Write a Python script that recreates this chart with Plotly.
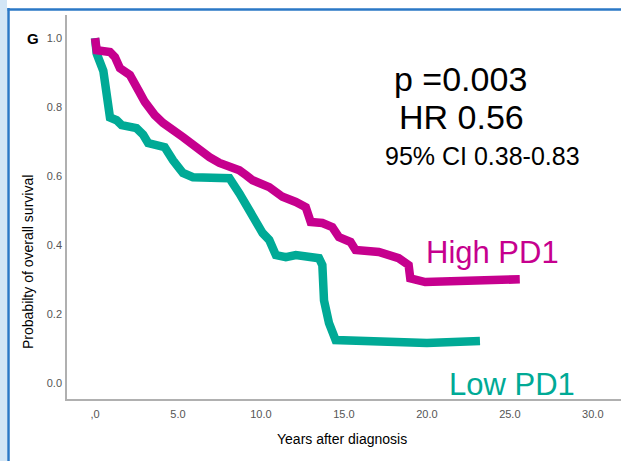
import plotly.graph_objects as go

# Low PD1 (teal) Kaplan-Meier curve
low_t = [0, 0.1, 0.5, 0.7, 0.9, 1.3, 1.6, 2.5, 2.9, 3.2, 4.2, 4.7, 5.3, 5.9, 8.1, 8.7, 9.5, 10.1,
         10.5, 10.9, 11.5, 12.1, 13.5, 13.7, 13.8, 14.1, 14.5, 17.1, 20.0, 23.2]
low_s = [1.0, 0.955, 0.905, 0.84, 0.77, 0.762, 0.748, 0.739, 0.72, 0.696, 0.684, 0.646, 0.609, 0.597,
         0.594, 0.55, 0.48, 0.435, 0.415, 0.371, 0.365, 0.371, 0.362, 0.342, 0.24, 0.174, 0.125,
         0.119, 0.116, 0.122]

# High PD1 (magenta)
high_t = [0, 0.1, 0.9, 1.2, 1.5, 2.1, 2.6, 3.0, 3.6, 4.1, 5.3, 6.1, 6.9, 7.5, 8.3, 8.7, 9.1, 9.5,
          10.5, 11.3, 12.1, 12.7, 13.0, 13.7, 14.3, 14.7, 15.4, 15.7, 17.1, 18.3, 18.9, 19.0, 19.9,
          23.2, 25.6]
high_s = [1.0, 0.965, 0.96, 0.945, 0.913, 0.893, 0.85, 0.815, 0.777, 0.754, 0.713, 0.681, 0.655,
          0.638, 0.626, 0.617, 0.603, 0.588, 0.568, 0.54, 0.525, 0.51, 0.467, 0.464, 0.452, 0.423,
          0.409, 0.386, 0.38, 0.362, 0.342, 0.304, 0.293, 0.301, 0.301]

x_tickvals = [0, 5, 10, 15, 20, 25, 30]
x_ticktext = [",0", "5.0", "10.0", "15.0", "20.0", "25.0", "30.0"]
y_tickvals = [0, 0.2, 0.4, 0.6, 0.8, 1.0]
y_ticktext = ["0.0", "0.2", "0.4", "0.6", "0.8", "1.0"]

TEAL = "#00AA96"
MAGENTA = "#C6008E"
FONT = "Arial, Liberation Sans, sans-serif"

W, H = 621, 461
L, R, T, B = 67, 0, 15, 62
pw, ph = W - L - R, H - T - B


def px_x(p):
    return (p - L) / pw


def px_y(p):
    return (H - B - p) / ph


fig = go.Figure()
fig.add_trace(go.Scatter(x=low_t, y=low_s, mode="lines",
                         line=dict(color=TEAL, width=8.5), showlegend=False, cliponaxis=False))
fig.add_trace(go.Scatter(x=high_t, y=high_s, mode="lines",
                         line=dict(color=MAGENTA, width=8.5), showlegend=False, cliponaxis=False))

fig.update_layout(
    width=W, height=H,
    margin=dict(l=L, r=R, t=T, b=B, pad=0),
    paper_bgcolor="white", plot_bgcolor="white",
    font=dict(family=FONT),
    xaxis=dict(range=[-1.69, 31.7], tickvals=x_tickvals, ticktext=x_ticktext,
               showgrid=False, zeroline=False, showline=True, linecolor="#b0b0b0", linewidth=1.5,
               ticks="", tickfont=dict(size=11, color="#555555"), ticklabelstandoff=4),
    yaxis=dict(range=[-0.046, 1.067], tickvals=y_tickvals, ticktext=y_ticktext,
               showgrid=False, zeroline=False, showline=True, linecolor="#b0b0b0", linewidth=1.5,
               ticks="", tickfont=dict(size=11, color="#555555"), ticklabelstandoff=1),
)

ann = []
ann.append(dict(text="Probabilty of overall survival", x=px_x(28), y=px_y(262), xref="paper",
                yref="paper", showarrow=False, textangle=-90, font=dict(size=14, color="black"),
                xanchor="center", yanchor="middle"))
ann.append(dict(text="Years after diagnosis", x=px_x(342), y=px_y(439), xref="paper",
                yref="paper", showarrow=False, font=dict(size=14, color="black"),
                xanchor="center", yanchor="middle"))
ann.append(dict(text="<b>G</b>", x=px_x(33), y=px_y(38), xref="paper", yref="paper",
                showarrow=False, font=dict(size=15, color="black"), xanchor="center",
                yanchor="middle"))
ann.append(dict(text="p =0.003", x=px_x(460), y=px_y(79), xref="paper", yref="paper",
                showarrow=False, font=dict(size=34, color="black"), xanchor="center",
                yanchor="middle"))
ann.append(dict(text="HR 0.56", x=px_x(461), y=px_y(117), xref="paper", yref="paper",
                showarrow=False, font=dict(size=34, color="black"), xanchor="center",
                yanchor="middle"))
ann.append(dict(text="95% CI 0.38-0.83", x=px_x(482), y=px_y(156), xref="paper", yref="paper",
                showarrow=False, font=dict(size=25, color="black"), xanchor="center",
                yanchor="middle"))
ann.append(dict(text="High PD1", x=px_x(492), y=px_y(252), xref="paper", yref="paper",
                showarrow=False, font=dict(size=31, color=MAGENTA), xanchor="center",
                yanchor="middle"))
ann.append(dict(text="Low PD1", x=px_x(512), y=px_y(384), xref="paper", yref="paper",
                showarrow=False, font=dict(size=31, color=TEAL), xanchor="center",
                yanchor="middle"))
fig.update_layout(annotations=ann)

shapes = [
    dict(type="rect", xref="paper", yref="paper", x0=px_x(0), x1=px_x(7), y0=px_y(H), y1=px_y(0),
         fillcolor="#D3E6F6", line=dict(width=0), layer="below"),
    dict(type="line", xref="paper", yref="paper", x0=px_x(8.5), x1=px_x(8.5), y0=px_y(H),
         y1=px_y(8), line=dict(color="#2B78C6", width=2.5)),
    dict(type="line", xref="paper", yref="paper", x0=px_x(7.5), x1=px_x(W), y0=px_y(9.5),
         y1=px_y(9.5), line=dict(color="#2B78C6", width=2.5)),
]
fig.update_layout(shapes=shapes)

fig.write_html("out.html", config={"displayModeBar": False})
